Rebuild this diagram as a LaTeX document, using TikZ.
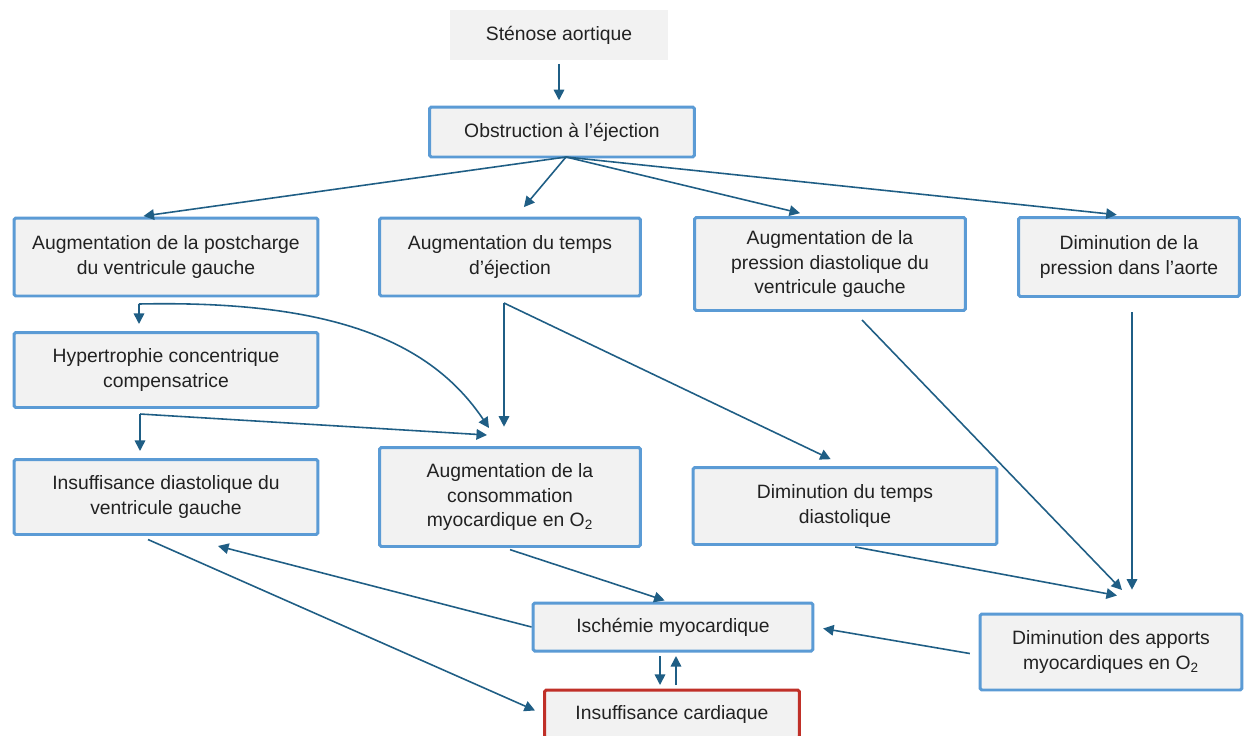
\documentclass[tikz,border=0pt]{standalone}
\usepackage{fontspec}
\setmainfont{Liberation Sans}
\usetikzlibrary{positioning, arrows.meta}
\definecolor{boxblue}{RGB}{91,155,213}
\definecolor{boxred}{RGB}{192,48,40}
\definecolor{boxgray}{RGB}{242,242,242}
\definecolor{arrowblue}{RGB}{31,94,133}
\definecolor{textdark}{RGB}{34,34,34}

\begin{document}
\begin{tikzpicture}[x=0.02cm,y=-0.02cm,font=\fontsize{11}{14.2}\selectfont,text=textdark,
  box/.style={draw=boxblue, line width=1.7pt, fill=boxgray, align=center, inner sep=0pt, rounded corners=1pt},
  topbox/.style={fill=boxgray, align=center, inner sep=0pt},
  endbox/.style={box, draw=boxred},
  arr/.style={draw=arrowblue, line width=0.9pt, -{Triangle[length=6pt,width=6pt]}}]

\fill[white] (0,0) rectangle (1245,735);
\useasboundingbox (0,0) rectangle (1245,735);

% Cause
\node[topbox, minimum width=4.36cm, minimum height=1cm] (stenose) at (559,35) {Sténose aortique};
\node[box, minimum width=5.3cm, minimum height=1cm] (obstruction) at (562,132) {Obstruction à l’éjection};

% First consequences
\node[box, minimum width=6.08cm, minimum height=1.56cm] (postcharge) at (166,257) {Augmentation de la postcharge\\du ventricule gauche};
\node[box, minimum width=5.22cm, minimum height=1.56cm] (tempsejection) at (510,257) {Augmentation du temps\\d’éjection};
\node[box, minimum width=5.42cm, minimum height=1.86cm] (pressiondia) at (830,264) {Augmentation de la\\pression diastolique du\\ventricule gauche};
\node[box, minimum width=4.42cm, minimum height=1.58cm] (aorte) at (1129,257) {Diminution de la\\pression dans l’aorte};

% Second row
\node[box, minimum width=6.08cm, minimum height=1.5cm] (hypertrophie) at (166,370) {Hypertrophie concentrique\\compensatrice};
\node[box, minimum width=6.08cm, minimum height=1.5cm] (insdiastolique) at (166,497) {Insuffisance diastolique du\\ventricule gauche};
\node[box, minimum width=5.22cm, minimum height=1.98cm] (consommation) at (510,497) {Augmentation de la\\consommation\\myocardique en O\textsubscript{2}};
\node[box, minimum width=6.08cm, minimum height=1.54cm] (tempsdiastolique) at (845,506) {Diminution du temps\\diastolique};

% Outcome
\node[box, minimum width=5.6cm, minimum height=0.96cm] (ischemie) at (673,627) {Ischémie myocardique};
\node[endbox, minimum width=5.1cm, minimum height=0.96cm] (inscardiaque) at (672,714) {Insuffisance cardiaque};
\node[box, minimum width=5.24cm, minimum height=1.52cm] (apports) at (1111,652) {Diminution des apports\\myocardiques en O\textsubscript{2}};

% Branch points
\coordinate (obstout) at (566,157);
\coordinate (postout) at (139,304);
\coordinate (tempsout) at (504,303);
\coordinate (hyperout) at (140,414);
\coordinate (pressout) at (862,320);
\coordinate (consoin) at (489,428);
\coordinate (apportsin) at (1122,590);

% Arrows
\draw[arr, shorten <=2pt, shorten >=3pt] (stenose) -- (stenose |- obstruction.north);
\draw[arr, shorten >=2pt] (obstout) -- ([xshift=-0.52cm]postcharge.north);
\draw[arr, shorten >=7pt] (obstout) -- ([xshift=0.12cm]tempsejection.north);
\draw[arr, shorten >=7pt] (obstout) -- ([xshift=-0.36cm]pressiondia.north);
\draw[arr, shorten >=7pt] (obstout) -- (aorte.north);

\draw[arr, shorten >=4pt] (postout) -- (postout |- hypertrophie.north);
\draw[arr] (postout) .. controls (330,300) and (430,340) .. (consoin);

\draw[arr, shorten >=11pt] (tempsout) -- (tempsout |- consommation.north);
\draw[arr, shorten >=9pt] (tempsout) -- (tempsdiastolique.north);

\draw[arr, shorten >=4pt] (hyperout) -- (hyperout |- insdiastolique.north);
\draw[arr] (hyperout) -- ([xshift=-0.46cm,yshift=0.22cm]consommation.north);

\draw[arr] (pressout) -- (apportsin);
\draw[arr, shorten <=8pt, shorten >=13pt] ([xshift=0.06cm]aorte.south) -- ([xshift=0.42cm]apports.north);
\draw[arr, shorten <=3pt] ([xshift=0.1cm]tempsdiastolique.south) -- ([xshift=0.12cm,yshift=0.34cm]apports.north);

\draw[arr, shorten <=3pt, shorten >=2pt] ([xshift=-0.1cm]consommation.south) -- ([xshift=-0.1cm]ischemie.north);
\draw[arr] (ischemie.west) -- ([xshift=1.04cm,yshift=-0.2cm]insdiastolique.south);
\draw[arr, shorten <=5pt, shorten >=5pt] ([xshift=-0.52cm]insdiastolique.south) -- (inscardiaque.west);
\draw[arr, shorten <=5pt, shorten >=5pt] ([yshift=-0.06cm]apports.west) -- (ischemie.east);

\draw[arr, shorten <=2pt, shorten >=2pt] ([xshift=-0.26cm]ischemie.south) -- ([xshift=-0.26cm]ischemie.south |- inscardiaque.north);
\draw[arr, shorten <=2pt, shorten >=2pt] ([xshift=0.06cm]ischemie.south |- inscardiaque.north) -- ([xshift=0.06cm]ischemie.south);
\end{tikzpicture}
\end{document}
